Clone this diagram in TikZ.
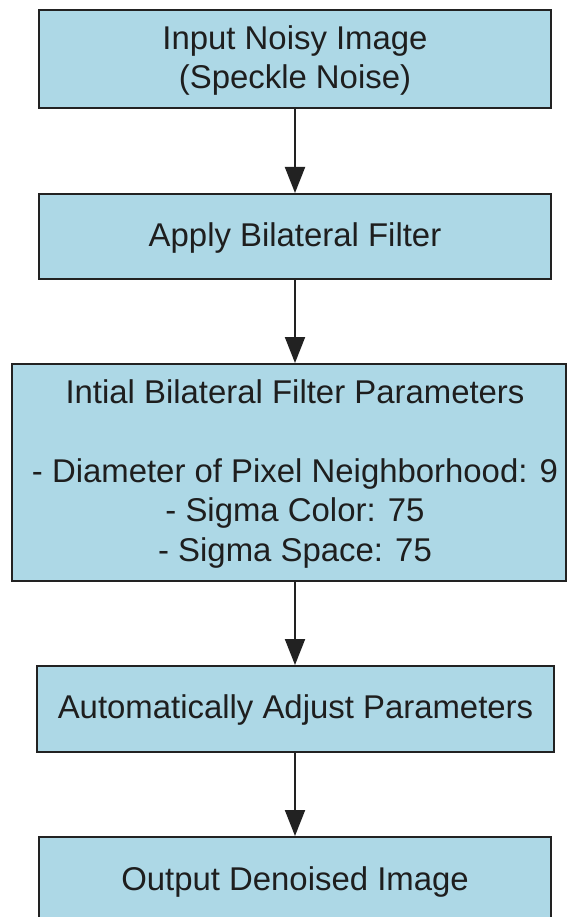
\documentclass[tikz,border=0pt]{standalone}
\usepackage{fontspec}
\setmainfont{Liberation Sans}
\usetikzlibrary{arrows.meta}
\definecolor{boxfill}{HTML}{ADD8E6}
\definecolor{boxline}{HTML}{222222}
\definecolor{textcol}{HTML}{1E1E1E}
\tikzset{
  stepbox/.style={draw=boxline, line width=2pt, fill=boxfill, text=textcol,
    align=center, inner sep=0pt,
    font=\fontsize{32.9}{39.5}\selectfont},
  steptext/.style={text=textcol, align=center, inner sep=0pt,
    font=\fontsize{32.9}{39.5}\selectfont},
  flow/.style={draw=boxline, line width=2pt,
    -{Triangle[length=26pt,width=20pt]}}
}
\begin{document}
\begin{tikzpicture}[x=1pt,y=-1pt]
  \useasboundingbox (0,0) rectangle (567,917);
  \node[stepbox, minimum width=512pt, minimum height=98pt] (input) at (295,59) {};
  \node[steptext] (inputtext) at (295,60.5) {Input Noisy Image\\(Speckle Noise)};
  \node[stepbox, minimum width=512pt, minimum height=85pt] (apply) at (295,236.5) {};
  \node[steptext] (applytext) at (295,238) {Apply Bilateral Filter};
  \node[stepbox, minimum width=554pt, minimum height=217pt] (params) at (289,472.5) {};
  \node[steptext] (paramstext) at (295,473.5)
    {Intial Bilateral Filter Parameters\\[39.5pt]
     - Diameter of Pixel Neighborhood: 9\\
     - Sigma Color: 75\\
     - Sigma Space: 75};
  \node[stepbox, minimum width=517pt, minimum height=86pt] (adjust) at (295.5,709) {};
  \node[steptext] (adjusttext) at (295.5,710) {Automatically Adjust Parameters};
  \node[stepbox, minimum width=512pt, minimum height=88pt] (output) at (295,881) {};
  \node[steptext, anchor=base] (outputtext) at (295,890) {Output Denoised Image};
  \draw[flow] (input.south -| 295,0) -- (apply.north -| 295,0);
  \draw[flow] (apply.south -| 295,0) -- (params.north -| 295,0);
  \draw[flow] (params.south -| 295,0) -- (adjust.north -| 295,0);
  \draw[flow] (adjust.south -| 295,0) -- (output.north -| 295,0);
\end{tikzpicture}
\end{document}
